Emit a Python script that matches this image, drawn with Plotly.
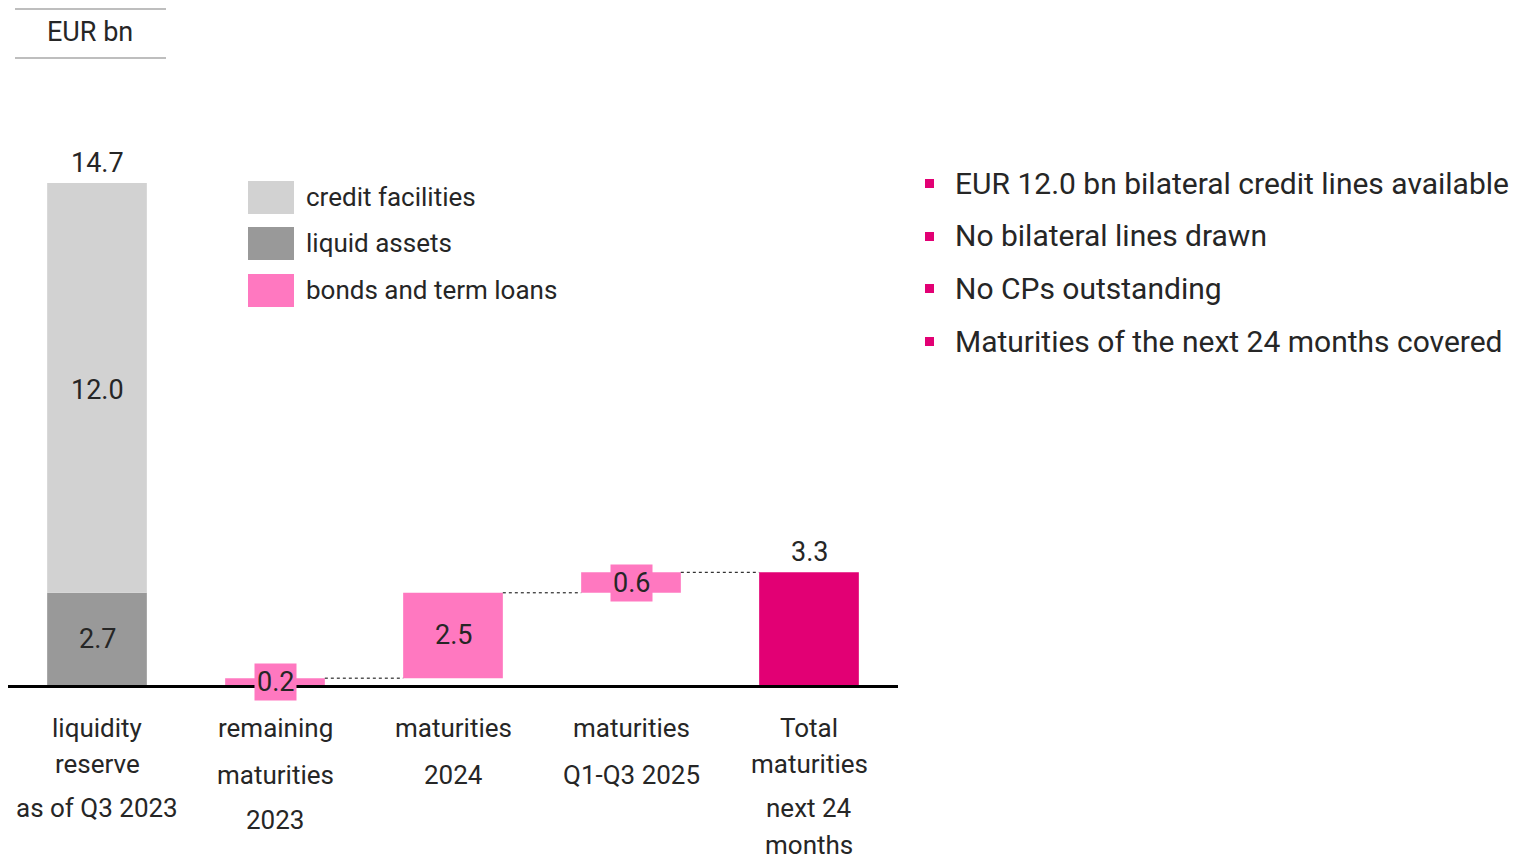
import plotly.graph_objects as go
import numpy as np

# ---------------- data ----------------
categories = ["liquidity reserve as of Q3 2023", "remaining maturities 2023",
              "maturities 2024", "maturities Q1-Q3 2025", "Total maturities next 24 months"]
category_lines = [["liquidity", "reserve", "as of Q3 2023"],
                  ["remaining", "maturities", "2023"],
                  ["maturities", "2024"],
                  ["maturities", "Q1-Q3 2025"],
                  ["Total", "maturities", "next 24", "months"]]
liquid_assets = 2.7
credit_facilities = 12.0
liquidity_total = 14.7
maturities = [0.2, 2.5, 0.6]          # categories 1..3
total_maturities = 3.3
legend_names = ["credit facilities", "liquid assets", "bonds and term loans"]
bullets = ["EUR 12.0 bn bilateral credit lines available",
           "No bilateral lines drawn",
           "No CPs outstanding",
           "Maturities of the next 24 months covered"]

# ---------------- styles ----------------
C_CREDIT = "#D2D2D2"
C_LIQUID = "#999999"
C_BOND = "#FF78C0"
C_TOTAL = "#E20074"
FONT = "Roboto, sans-serif"
TXT = "#262626"
W = 0.56
legend_colors = [C_CREDIT, C_LIQUID, C_BOND]

# layout geometry (page pixels; page body has an 8px margin)
PAGE_OFF = 8
ML, MT, MB = 0, 92, 182
PW, PH = 890, 585
PLOT_LEFT = PAGE_OFF + ML
PLOT_BOTTOM = PAGE_OFF + 859 - MB


def pxx(x):
    return (x - PLOT_LEFT) / PW


def pxy(y):
    return (PLOT_BOTTOM - y) / PH


x_idx = list(range(len(categories)))
bond_x = [1, 2, 3]
bond_base = list(np.concatenate([[0], np.cumsum(maturities)[:-1]]))

fig = go.Figure()
fig.add_bar(x=[0], y=[liquid_assets], base=[0], width=W, marker_color=C_LIQUID,
            marker_line_width=0, name=legend_names[1])
fig.add_bar(x=[0], y=[credit_facilities], base=[liquid_assets], width=W,
            marker_color=C_CREDIT, marker_line_width=0, name=legend_names[0])
fig.add_bar(x=bond_x, y=maturities, base=bond_base, width=W, marker_color=C_BOND,
            marker_line_width=0, name=legend_names[2])
fig.add_bar(x=[4], y=[total_maturities], base=[0], width=W, marker_color=C_TOTAL,
            marker_line_width=0, name="Total")

# dotted connectors
tops = [b + m for b, m in zip(bond_base, maturities)]
for i, t in zip(bond_x, tops):
    fig.add_trace(go.Scatter(x=[i + W / 2, i + 1 - W / 2], y=[t, t], mode="lines",
                             line=dict(color="#000000", width=1, dash="dot"),
                             hoverinfo="skip"))

ann = []
# value labels
ann.append(dict(x=0, y=liquidity_total, text=f"{liquidity_total:.1f}", yanchor="bottom", yshift=2))
ann.append(dict(x=0, y=liquid_assets + credit_facilities / 2, text=f"{credit_facilities:.1f}", yshift=-2))
ann.append(dict(x=0, y=liquid_assets / 2, text=f"{liquid_assets:.1f}"))
for i, b, m in zip(bond_x, bond_base, maturities):
    boxed = m < 1
    a = dict(x=i, y=b + m / 2, text=f"{m:.1f}")
    if boxed:
        a.update(bgcolor=C_BOND, borderpad=2)
    ann.append(a)
ann.append(dict(x=4, y=total_maturities, text=f"{total_maturities:.1f}", yanchor="bottom", yshift=2))
for a in ann:
    a.setdefault("yanchor", "middle")
    a.update(xref="x", yref="y", showarrow=False, font=dict(family=FONT, size=27, color=TXT))
fig.update_layout(annotations=ann)

# category labels (multi-line, irregular spacing as in original)
line_offsets = [[43, 79, 123], [43, 90, 135], [43, 90], [43, 90], [43, 79, 123, 160]]
for i, (lines, offs) in enumerate(zip(category_lines, line_offsets)):
    for ln, off in zip(lines, offs):
        fig.add_annotation(x=i, y=0, xref="x", yref="y", text=ln, showarrow=False,
                           yanchor="middle", yshift=-off,
                           font=dict(family=FONT, size=26, color=TXT))

# custom legend
leg_y = [197, 243, 290]
for name, col, py in zip(legend_names, legend_colors, leg_y):
    fig.add_shape(type="rect", xref="paper", yref="paper",
                  x0=pxx(248), x1=pxx(294), y0=pxy(py + 17), y1=pxy(py - 16),
                  fillcolor=col, line_width=0)
    fig.add_annotation(xref="paper", yref="paper", x=pxx(304), y=pxy(py),
                       text=name, showarrow=False, xanchor="left", yanchor="middle",
                       font=dict(family=FONT, size=26, color=TXT))

# bullets
bul_y = [183, 236, 288, 341]
for txt, py in zip(bullets, bul_y):
    fig.add_shape(type="rect", xref="paper", yref="paper",
                  x0=pxx(925), x1=pxx(934), y0=pxy(py + 5), y1=pxy(py - 4),
                  fillcolor=C_TOTAL, line_width=0)
    fig.add_annotation(xref="paper", yref="paper", x=pxx(953), y=pxy(py),
                       text=txt, showarrow=False, xanchor="left", yanchor="middle",
                       font=dict(family=FONT, size=30, color=TXT))

# EUR bn header
for py in [9, 58]:
    fig.add_shape(type="line", xref="paper", yref="paper",
                  x0=pxx(15), x1=pxx(166), y0=pxy(py), y1=pxy(py),
                  line=dict(color="#A8A8A8", width=1.5))
fig.add_annotation(xref="paper", yref="paper", x=pxx(90), y=pxy(32),
                   text="EUR bn", showarrow=False, xanchor="center", yanchor="middle",
                   font=dict(family=FONT, size=27, color=TXT))

fig.update_layout(
    width=1522, height=859,
    margin=dict(l=ML, r=1522 - ML - PW, t=MT, b=MB),
    paper_bgcolor="white", plot_bgcolor="white",
    showlegend=False, barmode="overlay",
    xaxis=dict(range=[-0.5, 4.5], showgrid=False, zeroline=False, showticklabels=False,
               showline=True, linecolor="#000000", linewidth=2.5, ticks=""),
    yaxis=dict(range=[0, PH / 34.15], showgrid=False, zeroline=False, showticklabels=False,
               showline=False, ticks=""),
)
fig.write_html("out.html")
